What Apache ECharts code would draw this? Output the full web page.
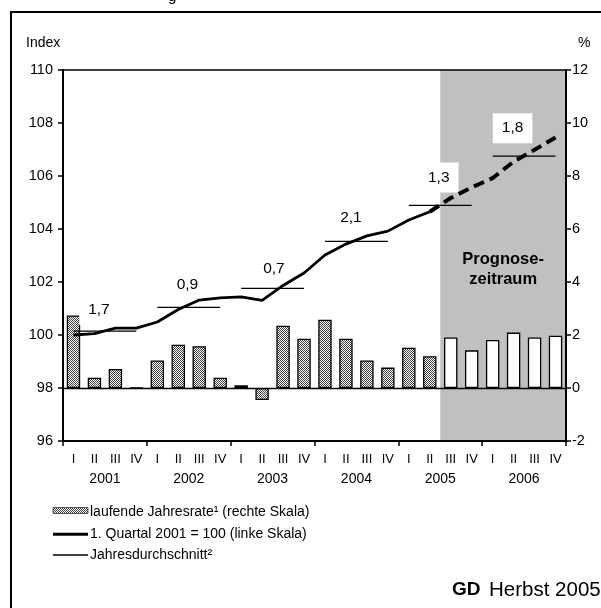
<!DOCTYPE html>
<html>
<head>
<meta charset="utf-8">
<script src="https://cdn.jsdelivr.net/npm/echarts@6/dist/echarts.min.js"></script>
<style>html,body{margin:0;padding:0;background:#fff}#c{width:601px;height:608px}</style>
</head>
<body>
<div id="c"></div>
<script>
// ---- data ----
const years = ['2001', '2002', '2003', '2004', '2005', '2006'];
const quarters = ['I', 'II', 'III', 'IV'];
const forecastStart = '2005 III';
// laufende Jahresrate (rechte Skala, %)
const rate = [2.74, 0.39, 0.72, 0, 1.04, 1.63, 1.58, 0.39, 0.1, -0.45, 2.35, 1.86,
              2.58, 1.86, 1.04, 0.77, 1.52, 1.2, 1.91, 1.42, 1.81, 2.09, 1.91, 1.97];
// 1. Quartal 2001 = 100 (linke Skala)
const indexValues = [100.0, 100.05, 100.26, 100.26, 100.49, 100.96, 101.32, 101.4,
                     101.44, 101.31, 101.87, 102.34, 103.02, 103.43, 103.74, 103.92,
                     104.34, 104.65, 105.17, 105.57, 105.92, 106.54, 106.99, 107.45];
// Jahresdurchschnitt
const yearAvg = [100.15, 101.04, 101.76, 103.53, 104.89, 106.75];
const yearRates = ['1,7', '0,9', '0,7', '2,1', '1,3', '1,8'];
const leftTicks = {min: 96, max: 110, interval: 2};
const rightTicks = {min: -2, max: 12, interval: 2};
const legendNames = ['laufende Jahresrate¹ (rechte Skala)', '1. Quartal 2001 = 100 (linke Skala)', 'Jahresdurchschnitt²'];

// ---- build ----
const categories = [];
years.forEach(y => quarters.forEach(q => categories.push(y + ' ' + q)));
const fIdx = categories.indexOf(forecastStart);
const lastActual = fIdx - 1;

const FONT = 'Liberation Sans, Arial, sans-serif';

// stipple pattern for bars
const pc = document.createElement('canvas');
pc.width = 4; pc.height = 4;
const pctx = pc.getContext('2d');
pctx.fillStyle = '#ffffff'; pctx.fillRect(0, 0, 4, 4);
pctx.fillStyle = '#404040';
for (let y = 0; y < 4; y++) for (let x = 0; x < 4; x++) if ((x + y) % 2 === 0) pctx.fillRect(x, y, 1, 1);
const pattern = {image: pc, repeat: 'repeat'};

const barData = rate.map((v, i) => ({
  value: v,
  itemStyle: i >= fIdx ? {color: '#ffffff'} : {color: pattern}
}));

const solidLine = indexValues.map((v, i) => i <= lastActual ? v : null);
const dashLine = indexValues.map((v, i) => i >= lastActual ? v : null);

// label offsets (style)
const labelOffsets = [[4.5, -21], [9.2, -22.7], [11.8, -19.7], [5, -24], [9, -28], [-1, -28]];

const avgSeries = yearAvg.map((avg, yi) => ({
  name: legendNames[2],
  type: 'line',
  xAxisIndex: 0, yAxisIndex: 0,
  data: categories.map((c, i) => {
    if (Math.floor(i / 4) !== yi) return null;
    if (i % 4 === 1) {
      return {
        value: avg,
        label: {
          show: true, formatter: yearRates[yi], position: 'inside',
          offset: labelOffsets[yi], align: 'center', verticalAlign: 'middle',
          fontSize: 15.5, fontFamily: FONT, color: '#000',
          backgroundColor: '#fff', padding: [7, 9]
        }
      };
    }
    return avg;
  }),
  symbol: 'circle', symbolSize: 0, showSymbol: true,
  lineStyle: {color: '#000', width: 1.3},
  itemStyle: {color: '#000'},
  z: 4,
  silent: true
}));

const chart = echarts.init(document.getElementById('c'), null, {renderer: 'canvas'});
chart.setOption({
  animation: false,
  backgroundColor: '#fff',
  grid: {left: 63, right: 35, top: 70, bottom: 167, show: false},
  xAxis: [
    {
      type: 'category', data: categories, position: 'bottom', z: 10,
      axisLine: {show: true, onZero: false, lineStyle: {color: '#000', width: 2}},
      axisTick: {show: true, interval: (i) => i % 4 === 0, length: 5, lineStyle: {color: '#000', width: 1.5}},
      axisLabel: {interval: 0, margin: 12, formatter: (v) => v.split(' ')[1], fontFamily: FONT, fontSize: 13, color: '#000'},
      splitLine: {show: false}
    },
    {
      type: 'category', data: years, position: 'bottom', z: 10,
      axisLine: {show: false}, axisTick: {show: false},
      axisLabel: {interval: 0, margin: 31, fontFamily: FONT, fontSize: 14, color: '#000'},
      splitLine: {show: false}
    },
    {
      type: 'category', data: categories, position: 'top', z: 10,
      axisLine: {show: true, onZero: false, lineStyle: {color: '#000', width: 1.5}},
      axisTick: {show: false}, axisLabel: {show: false}, splitLine: {show: false}
    }
  ],
  yAxis: [
    {
      type: 'value', position: 'left', min: leftTicks.min, max: leftTicks.max, interval: leftTicks.interval, z: 10,
      axisLine: {show: true, onZero: false, lineStyle: {color: '#000', width: 2}},
      axisTick: {show: true, length: 5, lineStyle: {color: '#000', width: 1.5}},
      axisLabel: {margin: 10, fontFamily: FONT, fontSize: 14.5, color: '#000'},
      splitLine: {show: false}
    },
    {
      type: 'value', position: 'right', min: rightTicks.min, max: rightTicks.max, interval: rightTicks.interval, z: 10,
      axisLine: {show: true, onZero: false, lineStyle: {color: '#000', width: 2}},
      axisTick: {show: true, length: 5, lineStyle: {color: '#000', width: 1.5}},
      axisLabel: {margin: 6, fontFamily: FONT, fontSize: 14.5, color: '#000'},
      splitLine: {show: false}
    }
  ],
  series: [
    {
      name: legendNames[0],
      type: 'bar', xAxisIndex: 0, yAxisIndex: 1,
      data: barData,
      barWidth: '64%',
      itemStyle: {borderColor: '#000', borderWidth: 1.3},
      z: 2,
      markArea: {
        silent: true,
        itemStyle: {color: '#c0c0c0'},
        label: {
          show: true, position: 'insideTop', distance: 0,
          formatter: 'Prognose-\nzeitraum',
          fontFamily: FONT, fontSize: 16.5, fontWeight: 'bold', color: '#000',
          lineHeight: 20, padding: [179, 0, 0, 0]
        },
        data: [[{xAxis: forecastStart}, {xAxis: categories[categories.length - 1]}]]
      },
      markLine: {
        silent: true, symbol: 'none',
        lineStyle: {color: '#000', width: 1.3, type: 'solid'},
        label: {show: false},
        data: [{yAxis: 0}]
      }
    },
    {
      name: legendNames[1],
      type: 'line', xAxisIndex: 0, yAxisIndex: 0,
      data: solidLine, symbol: 'none', showSymbol: false,
      lineStyle: {color: '#000', width: 2.8},
      itemStyle: {color: '#000'},
      z: 5
    },
    {
      name: legendNames[1],
      type: 'line', xAxisIndex: 0, yAxisIndex: 0,
      data: dashLine, symbol: 'none', showSymbol: false,
      lineStyle: {color: '#000', width: 4, type: [11, 6]},
      itemStyle: {color: '#000'},
      z: 5
    },
    ...avgSeries
  ],
  graphic: [
    {type: 'rect', shape: {x: 11, y: 12, width: 620, height: 640}, style: {fill: 'none', stroke: '#000', lineWidth: 2}, silent: true, z: 100},
    {type: 'text', left: 26, top: 36, style: {text: 'Index', font: '14px Liberation Sans, Arial', fill: '#000'}},
    {type: 'text', left: 578, top: 36, style: {text: '%', font: '14px Liberation Sans, Arial', fill: '#000'}},
    {type: 'text', left: 168, top: -11, style: {text: 'g', font: '15px Liberation Sans, Arial', fill: '#000'}},
    // legend
    {type: 'rect', shape: {x: 53, y: 507.5, width: 35, height: 6}, style: {fill: pattern, stroke: '#000', lineWidth: 0.6}},
    {type: 'text', x: 90, y: 511.7, style: {text: legendNames[0], font: '14px Liberation Sans, Arial', fill: '#000', verticalAlign: 'middle'}},
    {type: 'line', shape: {x1: 53, y1: 534.3, x2: 88, y2: 534.3}, style: {stroke: '#000', lineWidth: 3}},
    {type: 'text', x: 90, y: 534.3, style: {text: legendNames[1], font: '14px Liberation Sans, Arial', fill: '#000', verticalAlign: 'middle'}},
    {type: 'line', shape: {x1: 53, y1: 555, x2: 88, y2: 555}, style: {stroke: '#000', lineWidth: 1.3}},
    {type: 'text', x: 90, y: 555, style: {text: legendNames[2], font: '14px Liberation Sans, Arial', fill: '#000', verticalAlign: 'middle'}},
    // source
    {type: 'text', x: 452, y: 590, style: {text: 'GD', font: 'bold 19px Liberation Sans, Arial', fill: '#000', verticalAlign: 'middle'}},
    {type: 'text', x: 489, y: 590, style: {text: 'Herbst 2005', font: '20.5px Liberation Sans, Arial', fill: '#000', verticalAlign: 'middle'}}
  ]
});
</script>
</body>
</html>
